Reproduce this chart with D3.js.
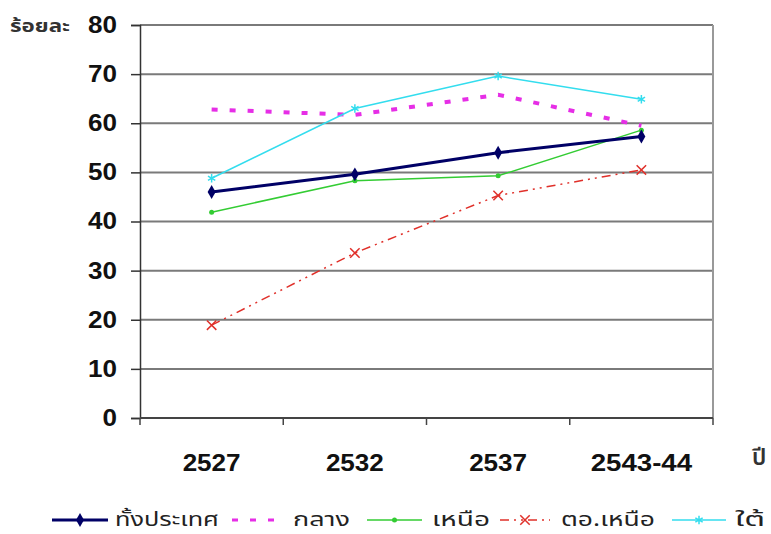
<!DOCTYPE html>
<html>
<head>
<meta charset="utf-8">
<script src="https://cdn.jsdelivr.net/npm/d3@7"></script>
<style>
  html, body { margin: 0; padding: 0; background: #fff; }
  svg { display: block; }
</style>
</head>
<body>
<svg id="chart" width="771" height="534"></svg>
<script>
// Survey years (categories)
const years = ["2527", "2532", "2537", "2543-44"];

// Percent by region, one array per series
const wholeKingdom = [46.0, 49.6, 54.0, 57.3];   // ทั้งประเทศ
const central      = [62.8, 61.7, 65.8, 59.5];   // กลาง
const north        = [41.9, 48.3, 49.3, 58.6];   // เหนือ
const northeast    = [18.9, 33.6, 45.3, 50.5];   // ตอ.เหนือ
const south        = [48.8, 63.0, 69.6, 64.9];   // ใต้

const seriesNames = ["ทั้งประเทศ", "กลาง", "เหนือ", "ตอ.เหนือ", "ใต้"];
const yTicks = [0, 10, 20, 30, 40, 50, 60, 70, 80];

const seriesStyle = [
  { values: wholeKingdom, color: "#000066", width: 3,   dash: null,          marker: "diamond" },
  { values: central,      color: "#e62ee6", width: 4,   dash: "6,12",        marker: "none" },
  { values: north,        color: "#33cc33", width: 1.5, dash: null,          marker: "dot" },
  { values: northeast,    color: "#e0302a", width: 1.5, dash: "9,5,2,5,2,5", marker: "x" },
  { values: south,        color: "#33ddee", width: 1.5, dash: null,          marker: "star" }
];

const svg = d3.select("#chart");
const margin = { left: 140, right: 713, top: 25, bottom: 418 };
const numFont = "'Liberation Sans', Arial, sans-serif";
const thaiFont = "'Noto Sans Thai', 'Noto Sans', 'DejaVu Sans', sans-serif";

const x = d3.scaleBand().domain(years).range([margin.left, margin.right]).padding(0);
const y = d3.scaleLinear().domain([0, 80]).range([margin.bottom, margin.top]);

// horizontal gridlines
svg.append("g")
  .selectAll("line")
  .data(yTicks.filter(d => d > 0))
  .join("line")
  .attr("x1", margin.left).attr("x2", margin.right)
  .attr("y1", d => y(d)).attr("y2", d => y(d))
  .attr("stroke", "#7a7a7a").attr("stroke-width", 2);

// right edge of plot area
svg.append("line")
  .attr("x1", margin.right).attr("x2", margin.right)
  .attr("y1", margin.top).attr("y2", margin.bottom)
  .attr("stroke", "#999").attr("stroke-width", 2);

// y axis
const yAxis = svg.append("g")
  .attr("transform", `translate(${margin.left},0)`)
  .call(d3.axisLeft(y).tickValues(yTicks).tickSize(9).tickPadding(14));
yAxis.select(".domain").attr("stroke", "#333").attr("stroke-width", 1.5);
yAxis.selectAll(".tick line").attr("stroke", "#333").attr("stroke-width", 1.5);
yAxis.selectAll("text")
  .attr("font-family", numFont).attr("font-weight", "bold")
  .attr("font-size", 23).attr("fill", "#111")
  .attr("textLength", d => String(d).length * 14.5)
  .attr("lengthAdjust", "spacingAndGlyphs");

// x axis: ticks at band boundaries, labels centred in bands
const xAxisG = svg.append("g").attr("transform", `translate(0,${margin.bottom})`);
xAxisG.append("line")
  .attr("x1", margin.left).attr("x2", margin.right)
  .attr("stroke", "#444").attr("stroke-width", 2);
const bounds = years.map(d => x(d)).concat([margin.right]);
xAxisG.selectAll("line.tk")
  .data(bounds)
  .join("line").attr("class", "tk")
  .attr("x1", d => d).attr("x2", d => d)
  .attr("y1", 0).attr("y2", 7)
  .attr("stroke", "#444").attr("stroke-width", 1.5);
xAxisG.selectAll("text")
  .data(years)
  .join("text")
  .attr("x", d => x(d) + x.bandwidth() / 2)
  .attr("y", 53)
  .attr("text-anchor", "middle")
  .attr("font-family", numFont).attr("font-weight", "bold")
  .attr("font-size", 23).attr("fill", "#111")
  .attr("textLength", d => d.length * 14.5)
  .attr("lengthAdjust", "spacingAndGlyphs")
  .text(d => d);

// axis titles
svg.append("text")
  .attr("x", 10).attr("y", 32)
  .attr("font-family", thaiFont).attr("font-weight", "bold")
  .attr("font-size", 17).attr("fill", "#333")
  .attr("textLength", 60).attr("lengthAdjust", "spacingAndGlyphs")
  .text("ร้อยละ");
svg.append("text")
  .attr("x", 752).attr("y", 465)
  .attr("font-family", thaiFont).attr("font-weight", 600)
  .attr("font-size", 23).attr("fill", "#333")
  .text("ปี");

function drawMarker(g, type, cx, cy, color) {
  if (type === "diamond") {
    g.append("path").attr("d", d3.symbol(d3.symbolDiamond, 55)())
      .attr("transform", `translate(${cx},${cy})`).attr("fill", color);
  } else if (type === "dot") {
    g.append("circle").attr("cx", cx).attr("cy", cy).attr("r", 2.5).attr("fill", color);
  } else if (type === "x") {
    g.append("path").attr("d", d3.symbol(d3.symbolX, 60)())
      .attr("transform", `translate(${cx},${cy})`)
      .attr("fill", "none").attr("stroke", color).attr("stroke-width", 1.5);
  } else if (type === "star") {
    g.append("path").attr("d", d3.symbol(d3.symbolAsterisk, 50)())
      .attr("transform", `translate(${cx},${cy})`)
      .attr("fill", "none").attr("stroke", color).attr("stroke-width", 1.5);
  }
}

const line = d3.line()
  .x((d, i) => x(years[i]) + x.bandwidth() / 2)
  .y(d => y(d));

// series lines and markers
const drawOrder = [3, 2, 0, 1, 4];
drawOrder.forEach(si => {
  const s = seriesStyle[si];
  const g = svg.append("g");
  g.append("path")
    .attr("d", line(s.values))
    .attr("fill", "none")
    .attr("stroke", s.color)
    .attr("stroke-width", s.width)
    .attr("stroke-dasharray", s.dash);
  s.values.forEach((v, i) => {
    drawMarker(g, s.marker, x(years[i]) + x.bandwidth() / 2, y(v), s.color);
  });
});

// legend
const legendY = 520;
const legendLayout = [
  { x0: 52, x1: 108, tx: 115, w: 104 },
  { x0: 232, x1: 285, tx: 293, w: 57 },
  { x0: 367, x1: 422, tx: 432, w: 58 },
  { x0: 500, x1: 550, tx: 561, w: 94 },
  { x0: 672, x1: 726, tx: 735, w: 30 }
];
const legend = svg.append("g");
seriesStyle.forEach((s, i) => {
  const L = legendLayout[i];
  legend.append("line")
    .attr("x1", L.x0).attr("x2", L.x1)
    .attr("y1", legendY).attr("y2", legendY)
    .attr("stroke", s.color)
    .attr("stroke-width", Math.min(s.width, 3))
    .attr("stroke-dasharray", s.dash);
  drawMarker(legend, s.marker, (L.x0 + L.x1) / 2, legendY, s.color);
  legend.append("text")
    .attr("x", L.tx).attr("y", legendY + 6)
    .attr("font-family", thaiFont)
    .attr("font-size", 19).attr("fill", "#222")
    .attr("textLength", L.w).attr("lengthAdjust", "spacingAndGlyphs")
    .text(seriesNames[i]);
});
</script>
</body>
</html>
